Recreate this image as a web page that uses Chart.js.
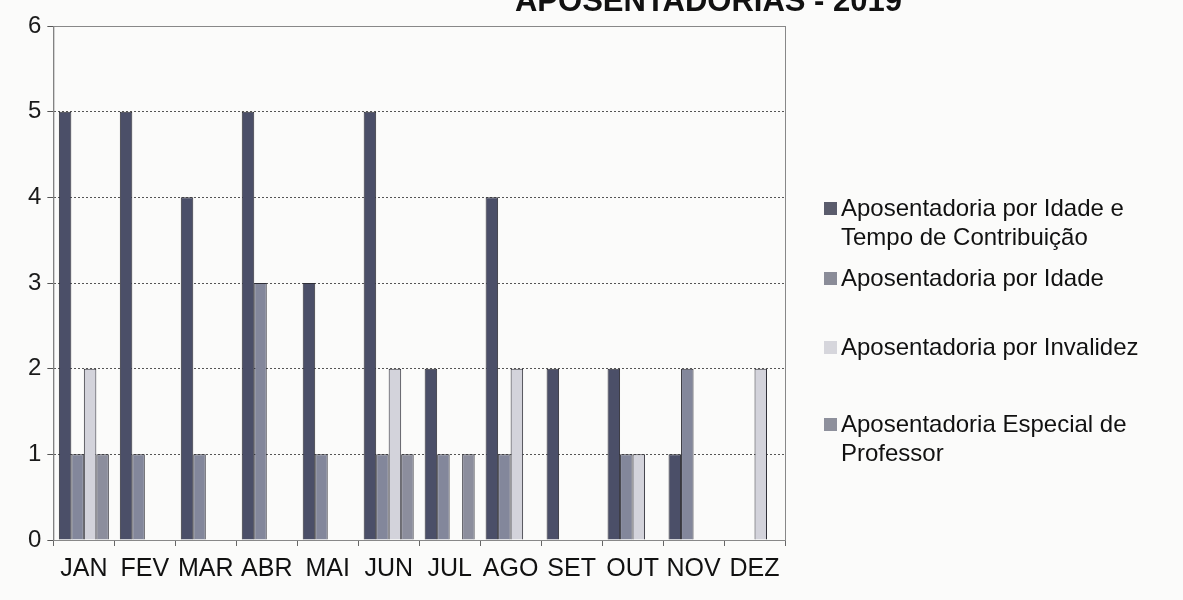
<!DOCTYPE html>
<html>
<head>
<meta charset="utf-8">
<script src="https://cdn.jsdelivr.net/npm/chart.js@4.4.1/dist/chart.umd.min.js"></script>
<style>
  body { margin: 0; background: #fbfbfa; }
  #wrap { position: relative; width: 1183px; height: 600px; overflow: hidden; }
  #chart { position: absolute; left: 0; top: 0; }
  #legend { position: absolute; left: 824px; top: 193px; width: 360px; font-family: Arial, "Liberation Sans", sans-serif; font-size: 24px; color: #111; }
  #legend .item { display: flex; align-items: flex-start; line-height: 29px; }
  #legend .box { width: 13px; height: 13px; margin: 9px 4px 0 0; flex: none; }
</style>
</head>
<body>
<div id="wrap">
  <canvas id="chart" width="1183" height="600"></canvas>
  <div id="legend"></div>
</div>
<script>
const months = ['JAN', 'FEV', 'MAR', 'ABR', 'MAI', 'JUN', 'JUL', 'AGO', 'SET', 'OUT', 'NOV', 'DEZ'];
const idadeTempo = [5, 5, 4, 5, 3, 5, 2, 4, 2, 2, 1, 0];
const idade = [1, 1, 1, 3, 1, 1, 1, 1, 0, 1, 2, 0];
const invalidez = [2, 0, 0, 0, 0, 2, 0, 2, 0, 1, 0, 2];
const professor = [1, 0, 0, 0, 0, 1, 1, 0, 0, 0, 0, 0];
const seriesNames = [
    'Aposentadoria por Idade e Tempo de Contribuição',
    'Aposentadoria por Idade',
    'Aposentadoria por Invalidez',
    'Aposentadoria Especial de Professor'
];
const chartTitle = 'APOSENTADORIAS - 2019';

const colors = ['#4b4f68', '#83879b', '#d3d3db', '#8c8e9d'];
const legendColors = ['#5a5c6c', '#8a8c98', '#d6d6dc', '#8e909c'];
const legendGaps = [0, 12, 40, 48];

// title is cut off at the top of the scan, draw it so only its lower half shows
const clippedTitle = {
    id: 'clippedTitle',
    afterDraw(chart) {
        const ctx = chart.ctx;
        ctx.save();
        ctx.font = 'bold 31px Arial, "Liberation Sans", sans-serif';
        ctx.fillStyle = '#111';
        ctx.textAlign = 'right';
        ctx.textBaseline = 'alphabetic';
        ctx.fillText(chartTitle, 902, 11);
        ctx.restore();
    }
};

const ctx = document.getElementById('chart').getContext('2d');
new Chart(ctx, {
    type: 'bar',
    data: {
        labels: months,
        datasets: [idadeTempo, idade, invalidez, professor].map((d, i) => ({
            label: seriesNames[i],
            data: d,
            backgroundColor: colors[i],
            borderColor: '#2e2e36',
            borderWidth: 1,
            categoryPercentage: 0.82,
            barPercentage: 1.0
        }))
    },
    options: {
        responsive: false,
        animation: false,
        layout: { padding: { left: 22, right: 398, top: 26, bottom: 8 } },
        plugins: {
            legend: { display: false },
            tooltip: { enabled: false }
        },
        scales: {
            y: {
                min: 0,
                max: 6,
                ticks: {
                    stepSize: 1,
                    color: '#1a1a1a',
                    font: { family: 'Arial, "Liberation Sans", sans-serif', size: 24 },
                    padding: 6
                },
                grid: {
                    color: '#555',
                    lineWidth: 1,
                    tickLength: 6
                },
                border: { display: true, color: '#777', width: 1, dash: [2, 2] }
            },
            x: {
                ticks: {
                    color: '#111',
                    font: { family: 'Arial, "Liberation Sans", sans-serif', size: 25 },
                    padding: 8,
                    maxRotation: 0,
                    autoSkip: false
                },
                grid: {
                    display: true,
                    drawOnChartArea: false,
                    offset: true,
                    tickLength: 6,
                    color: '#666'
                },
                border: { display: true, color: '#777', width: 1 }
            }
        }
    },
    plugins: [clippedTitle, {
        id: 'plotFrame',
        afterDraw(chart) {
            const a = chart.chartArea;
            const c = chart.ctx;
            c.save();
            c.strokeStyle = '#888';
            c.lineWidth = 1;
            c.strokeRect(a.left + 0.5, a.top + 0.5, a.right - a.left, a.bottom - a.top);
            c.restore();
        }
    }]
});

const legend = document.getElementById('legend');
seriesNames.forEach((name, i) => {
    const item = document.createElement('div');
    item.className = 'item';
    item.style.marginTop = legendGaps[i] + 'px';
    const box = document.createElement('span');
    box.className = 'box';
    box.style.background = legendColors[i];
    const txt = document.createElement('span');
    txt.textContent = name;
    item.appendChild(box);
    item.appendChild(txt);
    legend.appendChild(item);
});
</script>
</body>
</html>
